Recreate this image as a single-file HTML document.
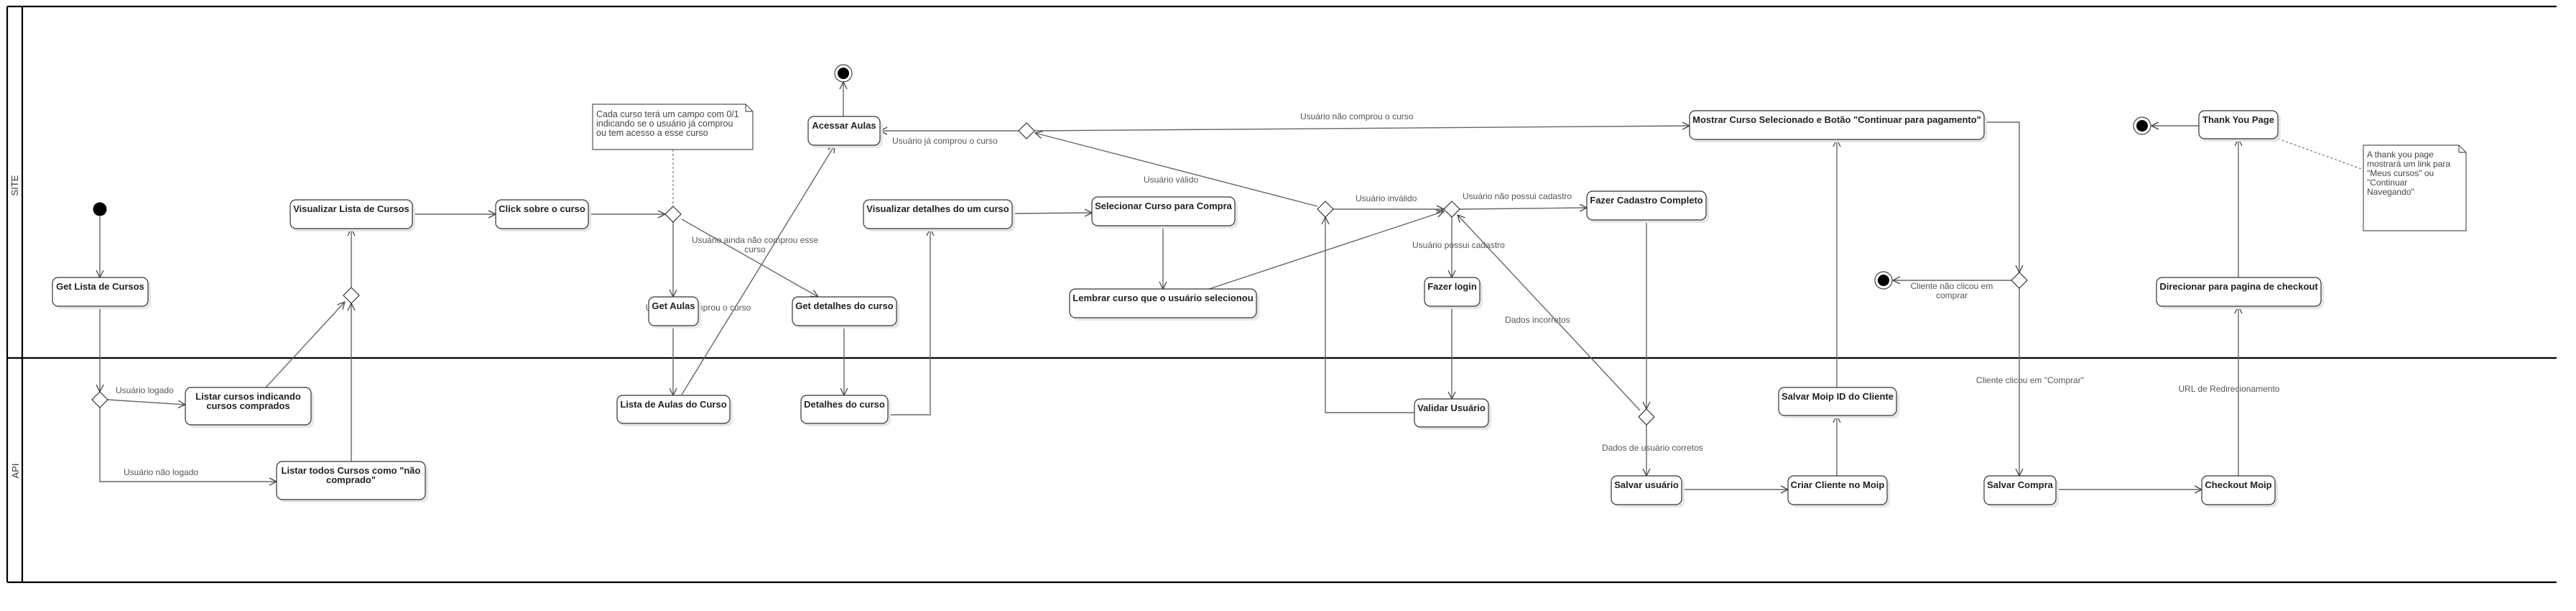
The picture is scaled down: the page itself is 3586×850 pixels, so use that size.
<!DOCTYPE html>
<html><head><meta charset="utf-8"><style>
html,body{margin:0;padding:0;background:#fff}
svg{display:block}
.b{font-family:"Liberation Sans",sans-serif;font-weight:bold;font-size:13px;fill:#222}
.l{font-family:"Liberation Sans",sans-serif;font-size:12px;fill:#555}
.n{font-family:"Liberation Sans",sans-serif;font-size:12.5px;fill:#444}
.e{stroke:#666;stroke-width:1.4;fill:none}
</style></head><body>
<svg width="3586" height="850" viewBox="0 0 3586 850" xmlns="http://www.w3.org/2000/svg">
<defs>
<marker id="a" markerWidth="12" markerHeight="12" refX="11" refY="6" orient="auto" markerUnits="userSpaceOnUse">
<path d="M1,1 L11,6 L1,11" fill="none" stroke="#444" stroke-width="1.3"/>
</marker>
</defs>
<g stroke="#000" stroke-width="2.2" fill="none">
<line x1="10" y1="9" x2="3559" y2="9"/>
<line x1="10" y1="498" x2="3559" y2="498"/>
<line x1="10" y1="810" x2="3559" y2="810"/>
<line x1="10" y1="9" x2="10" y2="810"/>
<line x1="31" y1="9" x2="31" y2="810"/>
</g>
<text class="l" style="font-size:13px;fill:#333" transform="translate(25,258) rotate(-90)" text-anchor="middle">SITE</text>
<text class="l" style="font-size:13px;fill:#333" transform="translate(26,655) rotate(-90)" text-anchor="middle">API</text>

<g class="l">
<text x="161" y="547">Usuário logado</text>
<text x="172" y="661">Usuário não logado</text>
<text x="1242" y="200">Usuário já comprou o curso</text>
<text x="1592" y="254">Usuário válido</text>
<text x="1051" y="338" text-anchor="middle">Usuário ainda não comprou esse</text>
<text x="1051" y="351" text-anchor="middle">curso</text>
<text x="972" y="432" text-anchor="middle">Usuário já comprou o curso</text>
<text x="1810" y="166">Usuário não comprou o curso</text>
<text x="1887" y="280">Usuário inválido</text>
<text x="2036" y="277">Usuário não possui cadastro</text>
<text x="1966" y="345">Usuário possui cadastro</text>
<text x="2095" y="449">Dados incorretos</text>
<text x="2230" y="627">Dados de usuário corretos</text>
<text x="2717" y="402" text-anchor="middle">Cliente não clicou em</text>
<text x="2717" y="415" text-anchor="middle">comprar</text>
<text x="2826" y="533" text-anchor="middle">Cliente clicou em "Comprar"</text>
<text x="3103" y="545" text-anchor="middle">URL de Redirecionamento</text>
</g>

<g class="e" marker-end="url(#a)">
<path d="M139,301 L139,386"/>
<path d="M139,426 L139,545"/>
<path d="M150,556 L258,563"/>
<path d="M139,567 L139,670 L385,670"/>
<path d="M489,642 L489,422"/>
<path d="M370,539 L480,420"/>
<path d="M489,400 L489,318"/>
<path d="M574,298 L690,298"/>
<path d="M819,298 L926,298"/>
<path d="M937,309 L937,413"/>
<path d="M949,305 L1139,413"/>
<path d="M937,453 L937,550"/>
<path d="M949,549 L1162,202"/>
<path d="M1175,453 L1175,550"/>
<path d="M1236,577 L1295,577 L1295,318"/>
<path d="M1409,297 L1520,296"/>
<path d="M1619,314 L1619,402"/>
<path d="M1174,162 L1174,114"/>
<path d="M1418,182 L1225,182"/>
<path d="M1440,182 L2352,175"/>
<path d="M1834,287 L1441,185"/>
<path d="M1856,291 L2010,291"/>
<path d="M1683,402 L2010,294"/>
<path d="M2032,291 L2209,289"/>
<path d="M2021,302 L2021,386"/>
<path d="M2021,426 L2021,555"/>
<path d="M1969,574 L1845,574 L1845,302"/>
<path d="M2292,306 L2292,569"/>
<path d="M2283,571 L2029,299"/>
<path d="M2292,591 L2292,662"/>
<path d="M2341,681 L2489,681"/>
<path d="M2557,662 L2557,578"/>
<path d="M2557,539 L2557,194"/>
<path d="M2762,170 L2811,170 L2811,379"/>
<path d="M2800,390 L2635,390"/>
<path d="M2811,401 L2811,662"/>
<path d="M2862,681 L3065,681"/>
<path d="M3116,662 L3116,426"/>
<path d="M3116,386 L3116,193"/>
<path d="M3061,175 L2995,175"/>
</g>
<g stroke="#555" stroke-width="1" stroke-dasharray="3,3" fill="none">
<line x1="937" y1="208" x2="937" y2="287"/>
<line x1="3171" y1="193" x2="3290" y2="236"/>
</g>

<g fill="#fff" stroke="#555" stroke-width="1.2">
<path d="M825,145 L1038,145 L1048,155 L1048,208 L825,208 Z"/>
<path d="M1038,145 L1038,155 L1048,155" fill="none"/>
<path d="M3290,202 L3423,202 L3433,212 L3433,321 L3290,321 Z"/>
<path d="M3423,202 L3423,212 L3433,212" fill="none"/>
</g>
<g class="n">
<text x="830" y="163">Cada curso terá um campo com 0/1</text>
<text x="830" y="176">indicando se o usuário já comprou</text>
<text x="830" y="189">ou tem acesso a esse curso</text>
<text x="3295" y="219" style="font-size:12px">A thank you page</text>
<text x="3295" y="232" style="font-size:12px">mostrará um link para</text>
<text x="3295" y="245" style="font-size:12px">"Meus cursos" ou</text>
<text x="3295" y="258" style="font-size:12px">"Continuar</text>
<text x="3295" y="271" style="font-size:12px">Navegando"</text>
</g>

<g fill="#fff" stroke="#333" stroke-width="1.2">
<path d="M489,400 L500,411 L489,422 L478,411 Z"/>
<path d="M139,545 L150,556 L139,567 L128,556 Z"/>
<path d="M937,287 L948,298 L937,309 L926,298 Z"/>
<path d="M1429,171 L1440,182 L1429,193 L1418,182 Z"/>
<path d="M1845,280 L1856,291 L1845,302 L1834,291 Z"/>
<path d="M2021,280 L2032,291 L2021,302 L2010,291 Z"/>
<path d="M2292,569 L2303,580 L2292,591 L2281,580 Z"/>
<path d="M2811,379 L2822,390 L2811,401 L2800,390 Z"/>
</g>

<circle cx="139" cy="291" r="9.5" fill="#000"/>
<g>
<circle cx="1174" cy="102" r="12" fill="#fff" stroke="#444" stroke-width="1.2"/><circle cx="1174" cy="102" r="8" fill="#000"/>
<circle cx="2982" cy="175" r="12" fill="#fff" stroke="#444" stroke-width="1.2"/><circle cx="2982" cy="175" r="8" fill="#000"/>
<circle cx="2622" cy="390" r="12" fill="#fff" stroke="#444" stroke-width="1.2"/><circle cx="2622" cy="390" r="8" fill="#000"/>
</g>

<g>
<g fill="#e6e6e6">
<rect x="77" y="390" width="133" height="40" rx="8"/>
<rect x="408" y="282" width="170" height="40" rx="8"/>
<rect x="694" y="282" width="129" height="40" rx="8"/>
<rect x="262" y="543" width="175" height="52" rx="8"/>
<rect x="389" y="646" width="207" height="53" rx="8"/>
<rect x="907" y="417" width="69" height="40" rx="8"/>
<rect x="1107" y="417" width="145" height="40" rx="8"/>
<rect x="863" y="554" width="157" height="39" rx="8"/>
<rect x="1119" y="554" width="121" height="39" rx="8"/>
<rect x="1129" y="166" width="100" height="40" rx="8"/>
<rect x="1206" y="282" width="207" height="40" rx="8"/>
<rect x="1524" y="278" width="199" height="40" rx="8"/>
<rect x="1493" y="406" width="260" height="40" rx="8"/>
<rect x="2356" y="158" width="410" height="40" rx="8"/>
<rect x="2213" y="270" width="166" height="40" rx="8"/>
<rect x="1987" y="390" width="77" height="40" rx="8"/>
<rect x="1973" y="559" width="103" height="39" rx="8"/>
<rect x="2247" y="666" width="98" height="40" rx="8"/>
<rect x="2493" y="666" width="138" height="40" rx="8"/>
<rect x="2480" y="543" width="164" height="39" rx="8"/>
<rect x="2766" y="666" width="100" height="40" rx="8"/>
<rect x="3069" y="666" width="102" height="40" rx="8"/>
<rect x="3006" y="390" width="229" height="40" rx="8"/>
<rect x="3065" y="158" width="110" height="39" rx="8"/>
</g>
<g fill="#fff" stroke="#333" stroke-width="1.2">
<rect x="73" y="386" width="133" height="40" rx="8"/>
<rect x="404" y="278" width="170" height="40" rx="8"/>
<rect x="690" y="278" width="129" height="40" rx="8"/>
<rect x="258" y="539" width="175" height="52" rx="8"/>
<rect x="385" y="642" width="207" height="53" rx="8"/>
<rect x="903" y="413" width="69" height="40" rx="8"/>
<rect x="1103" y="413" width="145" height="40" rx="8"/>
<rect x="859" y="550" width="157" height="39" rx="8"/>
<rect x="1115" y="550" width="121" height="39" rx="8"/>
<rect x="1125" y="162" width="100" height="40" rx="8"/>
<rect x="1202" y="278" width="207" height="40" rx="8"/>
<rect x="1520" y="274" width="199" height="40" rx="8"/>
<rect x="1489" y="402" width="260" height="40" rx="8"/>
<rect x="2352" y="154" width="410" height="40" rx="8"/>
<rect x="2209" y="266" width="166" height="40" rx="8"/>
<rect x="1983" y="386" width="77" height="40" rx="8"/>
<rect x="1969" y="555" width="103" height="39" rx="8"/>
<rect x="2243" y="662" width="98" height="40" rx="8"/>
<rect x="2489" y="662" width="138" height="40" rx="8"/>
<rect x="2476" y="539" width="164" height="39" rx="8"/>
<rect x="2762" y="662" width="100" height="40" rx="8"/>
<rect x="3065" y="662" width="102" height="40" rx="8"/>
<rect x="3002" y="386" width="229" height="40" rx="8"/>
<rect x="3061" y="154" width="110" height="39" rx="8"/>
</g>
<g class="b" text-anchor="middle">
<text x="139.5" y="403">Get Lista de Cursos</text>
<text x="489" y="295">Visualizar Lista de Cursos</text>
<text x="754.5" y="295">Click sobre o curso</text>
<text x="345.5" y="556">Listar cursos indicando</text>
<text x="345.5" y="569">cursos comprados</text>
<text x="488.5" y="659">Listar todos Cursos como "não</text>
<text x="488.5" y="672">comprado"</text>
<text x="937.5" y="430">Get Aulas</text>
<text x="1175.5" y="430">Get detalhes do curso</text>
<text x="937.5" y="567">Lista de Aulas do Curso</text>
<text x="1175.5" y="567">Detalhes do curso</text>
<text x="1175" y="179">Acessar Aulas</text>
<text x="1305.5" y="295">Visualizar detalhes do um curso</text>
<text x="1619.5" y="291">Selecionar Curso para Compra</text>
<text x="1619" y="419">Lembrar curso que o usuário selecionou</text>
<text x="2557" y="171">Mostrar Curso Selecionado e Botão "Continuar para pagamento"</text>
<text x="2292" y="283">Fazer Cadastro Completo</text>
<text x="2021.5" y="403">Fazer login</text>
<text x="2020.5" y="572">Validar Usuário</text>
<text x="2292" y="679">Salvar usuário</text>
<text x="2558" y="679">Criar Cliente no Moip</text>
<text x="2558" y="556">Salvar Moip ID do Cliente</text>
<text x="2812" y="679">Salvar Compra</text>
<text x="3116" y="679">Checkout Moip</text>
<text x="3116.5" y="403">Direcionar para pagina de checkout</text>
<text x="3116" y="171">Thank You Page</text>
</g>
</g>
</svg>
</body></html>
